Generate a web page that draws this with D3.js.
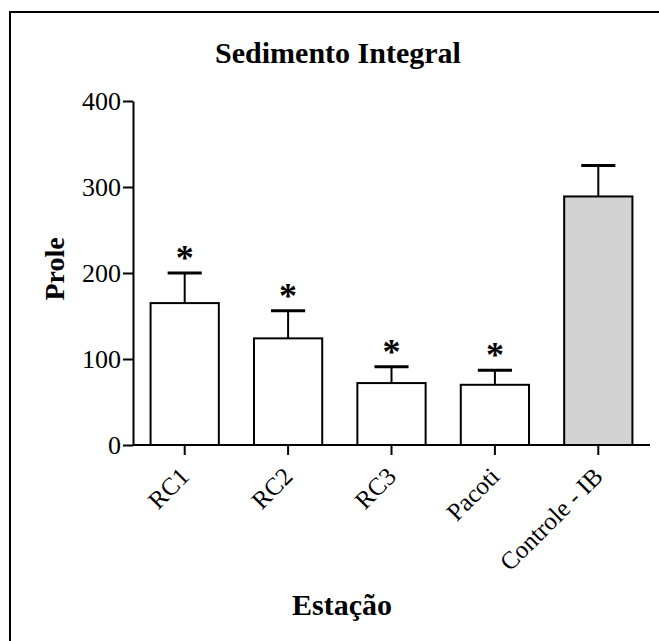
<!DOCTYPE html>
<html>
<head>
<meta charset="utf-8">
<script src="https://cdn.jsdelivr.net/npm/d3@7"></script>
<style>
  body { margin: 0; background: #fff; }
  text { font-family: "Liberation Serif", "Times New Roman", serif; fill: #000; }
</style>
</head>
<body>
<div id="chart"></div>
<script>
var estacoes = ["RC1", "RC2", "RC3", "Pacoti", "Controle - IB"];
var prole = [165, 124, 72, 70, 289];
var erro = [35, 32, 19, 17, 36];
var signif = [true, true, true, true, false];
var yTicks = [0, 100, 200, 300, 400];

var width = 659, height = 641;
var margin = {top: 101, right: 9, bottom: 196, left: 133};

var svg = d3.select("#chart").append("svg")
    .attr("width", width)
    .attr("height", height);

// frame round the figure (runs off the right and bottom edge)
svg.append("rect")
    .attr("x", 10).attr("y", 12)
    .attr("width", 700).attr("height", 700)
    .attr("fill", "none")
    .attr("stroke", "#000")
    .attr("stroke-width", 2);

var x = d3.scaleBand()
    .domain(estacoes)
    .range([margin.left, width - margin.right])
    .paddingInner(0.34)
    .paddingOuter(0.17);

var y = d3.scaleLinear()
    .domain([0, 400])
    .range([height - margin.bottom, margin.top]);

var data = estacoes.map(function(e, i) {
  return {name: e, value: prole[i], err: erro[i], sig: signif[i]};
});

// bars
svg.append("g")
  .selectAll("rect")
  .data(data)
  .enter().append("rect")
    .attr("x", function(d) { return x(d.name); })
    .attr("y", function(d) { return y(d.value); })
    .attr("width", x.bandwidth())
    .attr("height", function(d) { return y(0) - y(d.value); })
    .attr("fill", function(d) { return d.sig ? "#fff" : "#d3d3d3"; })
    .attr("stroke", "#000")
    .attr("stroke-width", 2);

// error bars (upper only)
var eb = svg.append("g").selectAll("g")
  .data(data)
  .enter().append("g");
eb.append("line")
    .attr("x1", function(d) { return x(d.name) + x.bandwidth() / 2; })
    .attr("x2", function(d) { return x(d.name) + x.bandwidth() / 2; })
    .attr("y1", function(d) { return y(d.value); })
    .attr("y2", function(d) { return y(d.value + d.err); })
    .attr("stroke", "#000").attr("stroke-width", 2);
eb.append("line")
    .attr("x1", function(d) { return x(d.name) + x.bandwidth() / 4; })
    .attr("x2", function(d) { return x(d.name) + x.bandwidth() * 3 / 4; })
    .attr("y1", function(d) { return y(d.value + d.err); })
    .attr("y2", function(d) { return y(d.value + d.err); })
    .attr("stroke", "#000").attr("stroke-width", 3);

// asterisks
svg.append("g").selectAll("text")
  .data(data.filter(function(d) { return d.sig; }))
  .enter().append("text")
    .attr("x", function(d) { return x(d.name) + x.bandwidth() / 2; })
    .attr("y", function(d) { return y(d.value + d.err) - 3; })
    .attr("text-anchor", "middle")
    .style("font-size", "36px")
    .style("font-weight", "bold")
    .text("*");

// y axis
var yAxis = svg.append("g")
    .attr("transform", "translate(" + margin.left + ",0)")
    .call(d3.axisLeft(y).tickValues(yTicks).tickSize(10).tickPadding(2).tickSizeOuter(0));
yAxis.selectAll("text").style("font-size", "26px").style("font-family", "Liberation Serif");
yAxis.selectAll("line").attr("stroke-width", 2);
yAxis.select(".domain").attr("stroke-width", 2);

// x axis
var xAxis = svg.append("g")
    .attr("transform", "translate(0," + y(0) + ")")
    .call(d3.axisBottom(x).tickSize(10).tickSizeOuter(0));
xAxis.select(".domain").attr("d", "M" + margin.left + ",0H" + (width - margin.right)).attr("stroke-width", 2);
xAxis.selectAll("line").attr("stroke-width", 2);
xAxis.selectAll("text")
    .style("font-size", "25px")
    .style("font-family", "Liberation Serif")
    .attr("text-anchor", "end")
    .attr("dy", null)
    .attr("y", 0)
    .attr("transform", "translate(6,33) rotate(-45)");

// titles
svg.append("text")
    .attr("x", 338).attr("y", 63)
    .attr("text-anchor", "middle")
    .style("font-size", "30px").style("font-weight", "bold")
    .text("Sedimento Integral");

svg.append("text")
    .attr("transform", "translate(64," + ((y(0) + y(400)) / 2 - 4) + ") rotate(-90)")
    .attr("text-anchor", "middle")
    .style("font-size", "28px").style("font-weight", "bold")
    .text("Prole");

svg.append("text")
    .attr("x", 342).attr("y", 615)
    .attr("text-anchor", "middle")
    .style("font-size", "30px").style("font-weight", "bold")
    .text("Estação");
</script>
</body>
</html>
